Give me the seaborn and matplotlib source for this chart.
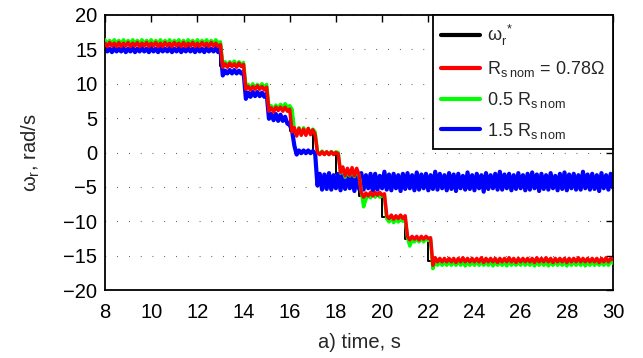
import numpy as np
import pandas as pd
import matplotlib
matplotlib.use("Agg")
import matplotlib.pyplot as plt
import seaborn as sns
from matplotlib.lines import Line2D

# sample times of the measured rotor speed traces, s
time_s = np.round(np.linspace(8.0, 30.0, 221), 1)

# speed reference: level held from each switching time, rad/s
ref_time = [8, 13, 14, 15, 16, 17, 18, 19, 20, 21, 22, 30]
ref_speed = [15.71, 12.57, 9.42, 6.28, 3.14, 0.0, -3.14, -6.28, -9.42, -12.57, -15.71, -15.71]

# estimated speed with the nominal stator resistance, rad/s
speed_rs_nom = [
    15.9, 15.4, 16.0, 15.5, 15.9, 15.4, 16.0, 15.4, 15.9, 15.5,
    16.0, 15.4, 15.9, 15.5, 16.0, 15.4, 15.9, 15.5, 16.0, 15.4,
    15.9, 15.5, 16.0, 15.4, 15.9, 15.4, 16.0, 15.5, 15.9, 15.4,
    16.0, 15.5, 15.9, 15.4, 16.0, 15.4, 15.9, 15.5, 16.0, 15.4,
    15.9, 15.4, 16.0, 15.5, 15.9, 15.4, 16.0, 15.5, 15.9, 15.4,
    15.7, 12.4, 12.9, 12.4, 13.0, 12.5, 12.9, 12.4, 13.0, 12.5,
    12.8, 9.2, 9.6, 9.1, 9.6, 9.2, 9.7, 9.2, 9.6, 9.1,
    9.5, 6.0, 6.5, 5.9, 6.6, 6.1, 6.6, 6.0, 6.6, 6.0,
    6.3, 3.0, 3.6, 2.4, 3.5, 2.5, 3.4, 2.5, 3.5, 2.6,
    3.3, 2.6, 0.0, -0.3, 0.1, -0.3, 0.1, -0.3, 0.1, -0.3,
    0.0, -0.2, -2.9, -2.1, -3.4, -2.3, -3.3, -2.2, -3.4, -2.3,
    -3.2, -5.8, -6.5, -5.9, -6.3, -5.8, -6.3, -5.8, -6.2, -5.8,
    -6.2, -6.0, -9.2, -9.6, -9.1, -9.7, -9.2, -9.6, -9.1, -9.6,
    -9.2, -12.2, -12.7, -12.2, -12.6, -12.2, -12.7, -12.2, -12.6, -12.2,
    -12.5, -12.4, -16.4, -15.3, -15.9, -15.4, -15.9, -15.4, -15.9, -15.4,
    -15.9, -15.4, -16.0, -15.4, -15.9, -15.3, -15.9, -15.4, -15.9, -15.4,
    -15.9, -15.4, -15.9, -15.3, -16.0, -15.4, -15.9, -15.4, -15.9, -15.4,
    -16.0, -15.4, -15.9, -15.4, -15.9, -15.3, -15.9, -15.4, -16.0, -15.4,
    -15.9, -15.4, -15.9, -15.4, -15.9, -15.4, -16.0, -15.3, -15.9, -15.4,
    -15.9, -15.3, -15.9, -15.4, -16.0, -15.4, -15.9, -15.4, -15.9, -15.4,
    -16.0, -15.4, -15.9, -15.4, -15.9, -15.3, -15.9, -15.4, -15.9, -15.4,
    -15.9, -15.4, -15.9, -15.4, -16.0, -15.4, -15.9, -15.3, -15.9, -15.4,
    -15.6,
]

# estimated speed with 0.5 x nominal stator resistance, rad/s
speed_rs_half = [
    16.4, 15.8, 16.3, 15.8, 16.4, 15.9, 16.3, 15.8, 16.4, 15.8,
    16.3, 15.8, 16.4, 15.9, 16.3, 15.8, 16.4, 15.8, 16.3, 15.9,
    16.4, 15.8, 16.3, 15.8, 16.4, 15.9, 16.3, 15.8, 16.4, 15.8,
    16.3, 15.9, 16.4, 15.8, 16.3, 15.8, 16.4, 15.9, 16.3, 15.8,
    16.4, 15.8, 16.3, 15.9, 16.4, 15.8, 16.3, 15.8, 16.4, 15.9,
    16.1, 12.7, 13.2, 12.7, 13.2, 12.8, 13.3, 12.7, 13.2, 12.8,
    13.1, 9.7, 9.9, 9.4, 10.0, 9.4, 9.9, 9.5, 10.0, 9.4,
    9.9, 6.6, 6.8, 6.3, 6.9, 6.4, 7.0, 6.5, 7.1, 6.6,
    6.8, 6.3, 3.3, 2.6, 3.6, 2.7, 3.6, 2.7, 3.5, 2.8,
    3.4, 3.0, 0.2, -0.2, 0.2, -0.2, 0.1, -0.3, 0.1, -0.2,
    0.1, 0.0, -3.0, -2.5, -3.6, -2.6, -3.4, -2.5, -3.5, -2.6,
    -3.3, -5.6, -7.9, -6.8, -6.2, -6.6, -6.0, -6.5, -6.0, -6.5,
    -6.3, -6.2, -9.6, -10.1, -9.6, -10.2, -9.7, -10.1, -9.6, -10.0,
    -9.7, -12.4, -13.6, -12.7, -13.0, -12.5, -13.0, -12.5, -13.0, -12.5,
    -12.8, -12.7, -16.9, -15.8, -16.4, -15.9, -16.4, -15.9, -16.4, -15.9,
    -16.4, -15.9, -16.4, -15.8, -16.4, -15.9, -16.5, -15.9, -16.4, -15.9,
    -16.4, -15.8, -16.4, -15.9, -16.4, -15.9, -16.4, -15.8, -16.5, -15.9,
    -16.4, -15.9, -16.4, -15.9, -16.5, -15.8, -16.4, -15.9, -16.4, -15.9,
    -16.4, -15.8, -16.4, -15.9, -16.4, -15.9, -16.5, -15.9, -16.4, -15.8,
    -16.4, -15.9, -16.5, -15.9, -16.4, -15.8, -16.4, -15.9, -16.4, -15.9,
    -16.5, -15.9, -16.4, -15.8, -16.4, -15.9, -16.4, -15.9, -16.5, -15.9,
    -16.4, -15.8, -16.4, -15.9, -16.4, -15.9, -16.4, -15.8, -16.4, -15.9,
    -16.1,
]

# estimated speed with 1.5 x nominal stator resistance, rad/s
speed_rs_15 = [
    15.2, 14.7, 15.1, 14.6, 15.2, 14.7, 15.1, 14.7, 15.2, 14.6,
    15.1, 14.7, 15.2, 14.6, 15.1, 14.7, 15.2, 14.7, 15.1, 14.6,
    15.2, 14.7, 15.1, 14.6, 15.2, 14.7, 15.1, 14.7, 15.2, 14.6,
    15.1, 14.7, 15.2, 14.6, 15.1, 14.7, 15.2, 14.7, 15.1, 14.6,
    15.2, 14.7, 15.1, 14.6, 15.2, 14.7, 15.1, 14.7, 15.2, 14.6,
    15.0, 11.2, 11.9, 11.5, 12.0, 11.5, 12.0, 11.5, 11.9, 11.5,
    11.8, 7.8, 8.7, 8.1, 8.8, 8.2, 8.8, 8.2, 8.7, 8.1,
    8.6, 4.9, 5.6, 4.7, 5.6, 4.6, 5.5, 4.6, 5.2, 4.2,
    4.0, 3.2, 1.0, -0.3, 0.3, -0.1, 0.3, -0.1, 0.3, -0.1,
    0.2, -0.1, -4.8, -3.1, -5.4, -3.2, -5.3, -3.0, -5.4, -3.3,
    -5.2, -3.1, -5.5, -3.2, -5.3, -2.9, -5.2, -3.3, -5.6, -3.1,
    -5.3, -3.0, -5.4, -3.3, -5.2, -3.1, -5.7, -3.1, -5.4, -3.4,
    -5.2, -2.8, -5.4, -3.2, -5.5, -3.1, -5.2, -3.3, -5.6, -3.1,
    -5.3, -3.0, -5.2, -3.3, -5.5, -2.9, -5.4, -3.2, -5.2, -3.1,
    -5.5, -3.3, -5.3, -2.8, -5.4, -3.1, -5.2, -3.3, -5.5, -3.0,
    -5.3, -3.2, -5.6, -3.1, -5.2, -3.4, -5.4, -2.9, -5.3, -3.3,
    -5.5, -3.1, -5.2, -3.3, -5.7, -3.0, -5.3, -3.3, -5.2, -3.1,
    -5.4, -2.8, -5.4, -3.2, -5.2, -3.1, -5.5, -3.3, -5.3, -3.0,
    -5.2, -3.3, -5.5, -3.1, -5.4, -2.9, -5.2, -3.2, -5.6, -3.1,
    -5.3, -3.3, -5.4, -3.0, -5.2, -3.4, -5.5, -3.1, -5.3, -2.9,
    -5.5, -3.2, -5.2, -3.1, -5.4, -3.3, -5.4, -2.8, -5.2, -3.2,
    -5.4, -3.1, -5.3, -3.3, -5.6, -3.0, -5.2, -3.3, -5.4, -3.1,
    -5.1,
]

legend_labels = [
    "ω$_\\mathrm{r}^{\\ *}$",
    "R$_\\mathrm{s\\ nom}$ = 0.78Ω",
    "0.5 R$_\\mathrm{s\\ nom}$",
    "1.5 R$_\\mathrm{s\\ nom}$",
]
colors = ["black", "#ff0000", "#00ff00", "#0000ff"]

sns.set_theme(style="white")
plt.rcParams["font.family"] = ["Liberation Sans", "DejaVu Sans"]
plt.rcParams["mathtext.fontset"] = "custom"
plt.rcParams["mathtext.rm"] = "Liberation Sans"
plt.rcParams["mathtext.it"] = "Liberation Sans:italic"
plt.rcParams["mathtext.bf"] = "Liberation Sans:bold"

fig = plt.figure(figsize=(6.43, 3.58), dpi=100)
ax = fig.add_axes([105 / 643, 1 - 290 / 358, 508 / 643, 275 / 358])

lw = 2.5
sns.lineplot(x=ref_time, y=ref_speed, color=colors[0], lw=1.4, ax=ax, zorder=1.5,
             drawstyle="steps-post")
sns.lineplot(x=time_s, y=speed_rs_15, color=colors[3], lw=3.0, ax=ax, zorder=2)
sns.lineplot(x=time_s, y=speed_rs_half, color=colors[2], lw=lw, ax=ax, zorder=3)
sns.lineplot(x=time_s, y=speed_rs_nom, color=colors[1], lw=lw, ax=ax, zorder=5)

ax.set_xlim(8, 30)
ax.set_ylim(-20, 20)
ax.set_xticks(np.arange(8, 31, 2))
ax.set_yticks(np.arange(-20, 21, 5))
ax.yaxis.grid(True, color="#222222", lw=0.8, linestyle=(0, (0.6, 10)))
ax.xaxis.grid(False)
ax.set_axisbelow(True)

for sp in ax.spines.values():
    sp.set_visible(True)
    sp.set_color("black")
    sp.set_linewidth(1.3)

ax.tick_params(axis="both", direction="in", length=5, width=1, colors="black",
               top=True, right=True, labelsize=14.5)
ax.tick_params(axis="y", pad=5.5)
ax.tick_params(axis="x", pad=9.5)

ax.set_xlabel("a) time, s", fontsize=14.5)
ax.set_ylabel("ω$_\\mathrm{r}$, rad/s", fontsize=14.5)
ax.xaxis.set_label_coords(0.5, -0.158)
ax.yaxis.set_label_coords(-0.125, 0.5)

handles = [Line2D([0], [0], color=c, lw=3) for c in colors]
leg = ax.legend(handles, legend_labels, loc="upper right", fontsize=13,
                frameon=True, fancybox=False, framealpha=1, edgecolor="black",
                borderaxespad=0, handlelength=2.2, handletextpad=0.35,
                labelspacing=0.6, borderpad=0.45)
leg.get_frame().set_linewidth(1.3)
leg.set_zorder(10)

fig.savefig("out.png", dpi=100)
